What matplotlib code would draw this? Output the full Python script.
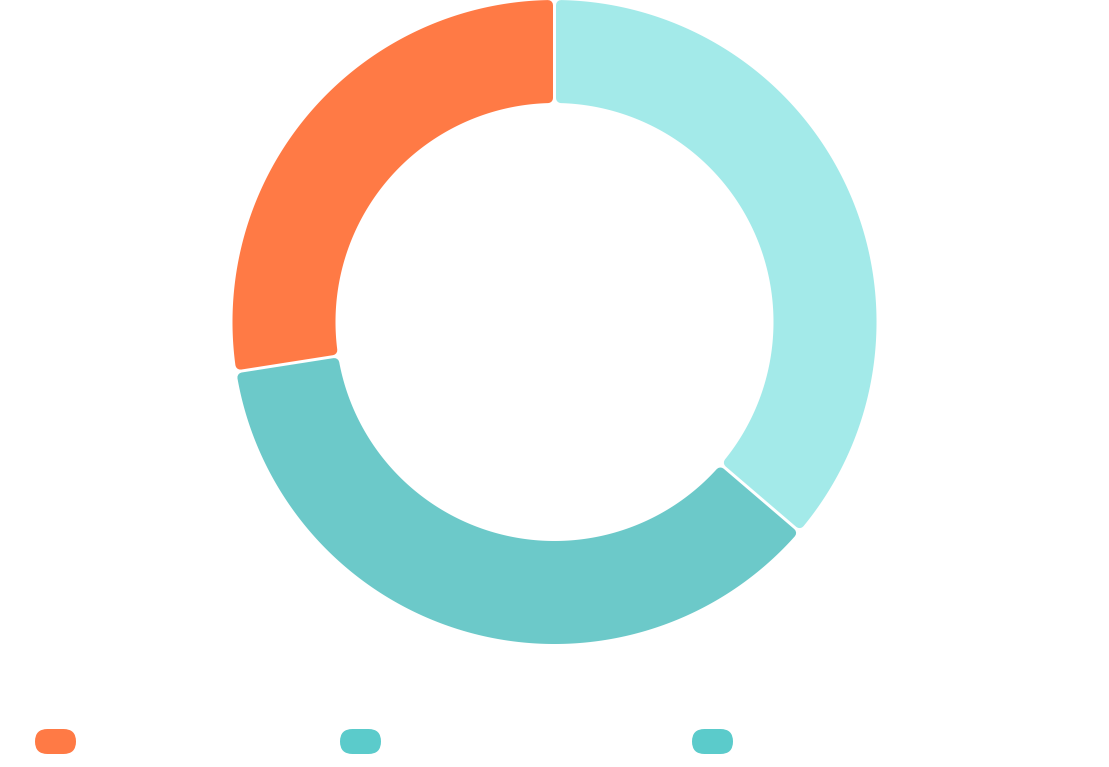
import numpy as np
import matplotlib.pyplot as plt
from matplotlib.patches import Polygon, FancyBboxPatch

# ring segments, clockwise from 12 o'clock
values = [33, 33, 25]
colors = ['#A3EAE9', '#6CC9C9', '#FF7A45']

# legend (labels are not shown in the reference)
legend_colors = ['#FF7A45', '#5BCBCB', '#5BCBCB']
legend_x = [35, 340, 692]

W, H = 1109, 767
cx, cy = 554.5, 322
r_out, r_in = 322, 219
gap = 1.5      # half of the white gap between segments, px
corner = 5     # corner rounding, px


def segment_outline(a1, a2):
    d = gap + corner
    ro = r_out - corner
    ri = r_in + corner
    t_out = np.linspace(a1 + np.arcsin(d / ro), a2 - np.arcsin(d / ro), 300)
    t_in = np.linspace(a2 - np.arcsin(d / ri), a1 + np.arcsin(d / ri), 300)
    t = np.concatenate([t_out, t_in])
    r = np.concatenate([np.full(300, ro), np.full(300, ri)])
    return np.column_stack([cx + r * np.sin(t), cy - r * np.cos(t)])


fig = plt.figure(figsize=(W / 100, H / 100), dpi=100)
ax = fig.add_axes([0, 0, 1, 1])
ax.set_xlim(0, W)
ax.set_ylim(H, 0)
ax.axis('off')

edges = 2 * np.pi * np.concatenate([[0], np.cumsum(values)]) / sum(values)
for i, c in enumerate(colors):
    poly = Polygon(segment_outline(edges[i], edges[i + 1]), closed=True,
                   facecolor=c, edgecolor=c, linewidth=corner * 2 * 0.72,
                   joinstyle='round')
    ax.add_patch(poly)

for x, c in zip(legend_x, legend_colors):
    box = FancyBboxPatch((x, 729), 41, 25,
                         boxstyle='round,pad=0,rounding_size=12.5',
                         facecolor=c, edgecolor='none')
    ax.add_patch(box)

fig.savefig('out.png', dpi=100)
